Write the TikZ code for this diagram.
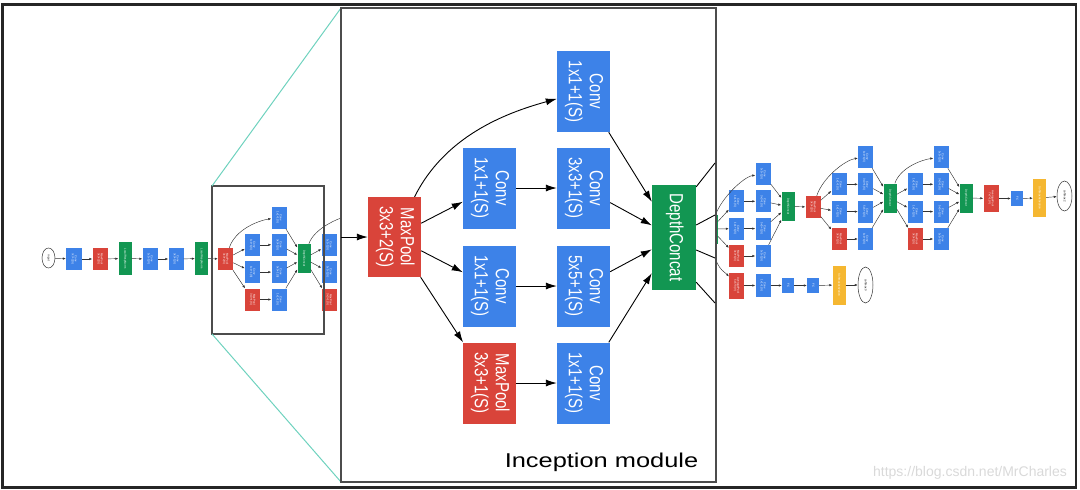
\documentclass[tikz,border=0pt]{standalone}
\usepackage{fontspec}
\setmainfont{Liberation Sans}
\usepackage{graphicx}
\usetikzlibrary{arrows.meta,shapes.geometric,calc}
\definecolor{gblue}{RGB}{61,130,232}
\definecolor{gred}{RGB}{217,68,58}
\definecolor{ggreen}{RGB}{18,150,82}
\definecolor{gyellow}{RGB}{245,183,49}
\definecolor{zoomteal}{RGB}{110,210,190}
\newcommand{\tlab}[1]{\rotatebox[origin=c]{-90}{\fontsize{2.8}{3.1}\selectfont\begin{tabular}{@{}c@{}}#1\end{tabular}}}
\newcommand{\blab}[1]{\rotatebox[origin=c]{-90}{\scalebox{1}[1.27]{\fontsize{15}{16.5}\selectfont\begin{tabular}{@{}c@{}}#1\end{tabular}}}}
% tiny inception module: #1 prefix, #2 input, #3 x col1, #4 x col2, #5 x concat, #6 y top row, #7 y concat
\newcommand{\incep}[7]{%
 \node[bl] (#1t) at (#4,#6) {\tlab{Conv\\1x1+1(S)}};
 \node[bl] (#1a1) at (#3,{#6+27.3}) {\tlab{Conv\\1x1+1(S)}};
 \node[bl] (#1a2) at (#4,{#6+27.3}) {\tlab{Conv\\3x3+1(S)}};
 \node[bl] (#1b1) at (#3,{#6+54.6}) {\tlab{Conv\\1x1+1(S)}};
 \node[bl] (#1b2) at (#4,{#6+54.6}) {\tlab{Conv\\5x5+1(S)}};
 \node[rd] (#1c1) at (#3,{#6+82}) {\tlab{MaxPool\\3x3+1(S)}};
 \node[bl] (#1c2) at (#4,{#6+82}) {\tlab{Conv\\1x1+1(S)}};
 \node[gr] (#1g) at (#5,#7) {\tlab{DepthConcat}};
 \draw[e] (#2) .. controls +(10,-30) and +(-20,3) .. (#1t);
 \draw[e] (#2) -- (#1a1);
 \draw[e] (#2) -- (#1b1);
 \draw[e] (#2) -- (#1c1);
 \draw[e] (#1a1) -- (#1a2);
 \draw[e] (#1b1) -- (#1b2);
 \draw[e] (#1c1) -- (#1c2);
 \draw[e] (#1t) -- (#1g);
 \draw[e] (#1a2) -- (#1g);
 \draw[e] (#1b2) -- (#1g);
 \draw[e] (#1c2) -- (#1g);
}
\begin{document}
\begin{tikzpicture}[x=1pt,y=-1pt,
  nd/.style={inner sep=0pt, text=white},
  bl/.style={nd, fill=gblue, minimum width=15pt, minimum height=22pt},
  rd/.style={nd, fill=gred, minimum width=15pt, minimum height=22pt},
  gr/.style={nd, fill=ggreen, minimum width=13pt, minimum height=29pt},
  yl/.style={nd, fill=gyellow, minimum width=13pt, minimum height=39pt},
  fc/.style={nd, fill=gblue, minimum width=12pt, minimum height=15pt},
  el/.style={ellipse, draw=black!80, line width=0.5pt, fill=white, inner sep=0pt, text=black, minimum width=15pt, minimum height=33pt},
  e/.style={-{Latex[length=3pt,width=2.4pt]}, line width=0.45pt, draw=black!80},
  E/.style={-{Latex[length=11pt,width=7pt]}, line width=0.9pt, draw=black},
  BB/.style={inner sep=0pt, text=white, minimum width=53pt, minimum height=81pt},
  boxline/.style={line width=1.5pt, draw=black!70},
  zoomline/.style={line width=1pt, draw=zoomteal},
]
\useasboundingbox (0,0) rectangle (1080,490);

% ---------- stem of the network ----------
\node[el, minimum width=13pt, minimum height=20pt] (in) at (48.5,258) {\tlab{input}};
\node[bl, minimum width=16pt] (c1) at (74,259) {\tlab{Conv\\7x7+2(S)}};
\node[rd] (p1) at (100,259) {\tlab{MaxPool\\3x3+2(S)}};
\node[gr, minimum height=33pt] (n1) at (125,258.5) {\tlab{LocalRespNorm}};
\node[bl] (c2) at (150,259) {\tlab{Conv\\1x1+1(V)}};
\node[bl] (c3) at (176,259) {\tlab{Conv\\3x3+1(S)}};
\node[gr, minimum height=33pt] (n2) at (201.5,258.5) {\tlab{LocalRespNorm}};
\node[rd] (p2) at (225.5,259) {\tlab{MaxPool\\3x3+2(S)}};
\foreach \a/\b in {in/c1,c1/p1,p1/n1,n1/c2,c2/c3,c3/n2,n2/p2} \draw[e] (\a) -- (\b);

\incep{A}{p2}{252.5}{279}{304}{217.5}{258.5}

% next module, partly hidden
\node[bl] (Bb1) at (329,245) {\tlab{Conv\\1x1+1(S)}};
\node[bl] (Bb2) at (329,272) {\tlab{Conv\\1x1+1(S)}};
\node[rd] (Bc) at (329,299.5) {\tlab{MaxPool\\3x3+1(S)}};
\coordinate (Bt) at (365,212);
\draw[e,-] (Ag) .. controls +(10,-30) and +(-25,3) .. (Bt);
\draw[e] (Ag) -- (Bb1);
\draw[e] (Ag) -- (Bb2);
\draw[e] (Ag) -- (Bc);

% ---------- right part ----------
\node[gr] (Dg) at (711,229) {\tlab{DepthConcat}};
\incep{E}{Dg}{736.5}{763}{788}{174}{206.5}

\node[rd, minimum height=26pt] (x1) at (736.5,285.5) {\tlab{AveragePool\\5x5+3(V)}};
\node[bl, minimum height=23pt] (x2) at (763,285.5) {\tlab{Conv\\1x1+1(S)}};
\node[fc] (x3) at (788,285.5) {\tlab{FC}};
\node[fc] (x4) at (813,285.5) {\tlab{FC}};
\node[yl] (x5) at (839,285) {\tlab{SoftmaxActivation}};
\node[el, minimum height=36pt] (x6) at (865.5,285) {\tlab{softmax0}};
\draw[e] (Dg) .. controls +(4,40) and +(-12,-14) .. (x1);
\foreach \a/\b in {x1/x2,x2/x3,x3/x4,x4/x5,x5/x6} \draw[e] (\a) -- (\b);

\node[rd] (P3) at (813,207) {\tlab{MaxPool\\3x3+2(S)}};
\draw[e] (Eg) -- (P3);
\incep{F}{P3}{839}{865.5}{890}{157}{198}
\incep{G}{Fg}{915}{941}{966}{157}{198}
\node[rd, minimum height=27pt] (P4) at (991,198.5) {\tlab{AveragePool\\7x7+1(V)}};
\node[fc] (f1) at (1017,198.5) {\tlab{FC}};
\node[yl, minimum height=38pt] (y1) at (1039.5,198) {\tlab{SoftmaxActivation}};
\node[el, minimum height=30pt] (s2) at (1064.5,196) {\tlab{softmax2}};
\foreach \a/\b in {Gg/P4,P4/f1,f1/y1,y1/s2} \draw[e] (\a) -- (\b);

% ---------- zoom box and lines ----------
\coordinate (sTL) at (212,186);
\coordinate (sBR) at (324,334);
\coordinate (sBL) at (212,334);
\coordinate (iTL) at (341,8);
\coordinate (iBR) at (716,482);
\coordinate (iBL) at (341,482);
\draw[boxline] (sTL) rectangle (sBR);
\draw[zoomline] (sTL) -- (iTL);
\draw[zoomline] (sBL) -- (iBL);
\draw[boxline, fill=white] (iTL) rectangle (iBR);

% ---------- inception module (enlarged) ----------
\node[BB, fill=gred, minimum height=80pt] (M) at (394.5,237) {\blab{MaxPool\\3x3+2(S)}};
\node[BB, fill=gblue] (T) at (583.5,91.5) {\blab{Conv\\1x1+1(S)}};
\node[BB, fill=gblue] (A1) at (489.5,188) {\blab{Conv\\1x1+1(S)}};
\node[BB, fill=gblue] (A2) at (583.5,188) {\blab{Conv\\3x3+1(S)}};
\node[BB, fill=gblue] (B1) at (489.5,286) {\blab{Conv\\1x1+1(S)}};
\node[BB, fill=gblue] (B2) at (583.5,286) {\blab{Conv\\5x5+1(S)}};
\node[BB, fill=gred] (C1) at (489.5,383) {\blab{MaxPool\\3x3+1(S)}};
\node[BB, fill=gblue] (C2) at (583.5,383) {\blab{Conv\\1x1+1(S)}};
\node[BB, fill=ggreen, minimum width=44pt, minimum height=105pt] (DC) at (674,237.5) {\blab{DepthConcat}};

\coordinate (inL) at (341,237);
\draw[E] (inL) -- (M);
\draw[E] (M) .. controls +(50,-100) and +(-80,22) .. (T);
\draw[E] (M) -- (A1);
\draw[E] (M) -- (B1);
\draw[E] (M) -- (C1);
\draw[E] (A1) -- (A2);
\draw[E] (B1) -- (B2);
\draw[E] (C1) -- (C2);
\draw[E] (T) -- (DC);
\draw[E] (A2) -- (DC);
\draw[E] (B2) -- (DC);
\draw[E] (C2) -- (DC);

\coordinate (o1) at (715,163);
\coordinate (o2) at (715,215);
\coordinate (o3) at (715,258);
\coordinate (o4) at (715,303);
\draw[line width=0.9pt] ([yshift=-2pt]DC.north east) -- (o1);
\draw[line width=0.9pt] ([yshift=12.5pt]DC.east) -- (o2);
\draw[line width=0.9pt] ([yshift=-12.5pt]DC.east) -- (o3);
\draw[line width=0.9pt] ([yshift=8pt]DC.south east) -- (o4);

\node[anchor=base, font=\fontsize{20}{20}\selectfont] (lbl) at (601.5,467) {\scalebox{1.27}[1]{Inception module}};

\node[text=black!15, font=\fontsize{14}{14}\selectfont] (wm) at (970,473) {https://blog.csdn.net/MrCharles};

% outer frame
\draw[line width=2.5pt, draw=black!85] (2.5,4.5) rectangle (1076,487.5);
\end{tikzpicture}
\end{document}
